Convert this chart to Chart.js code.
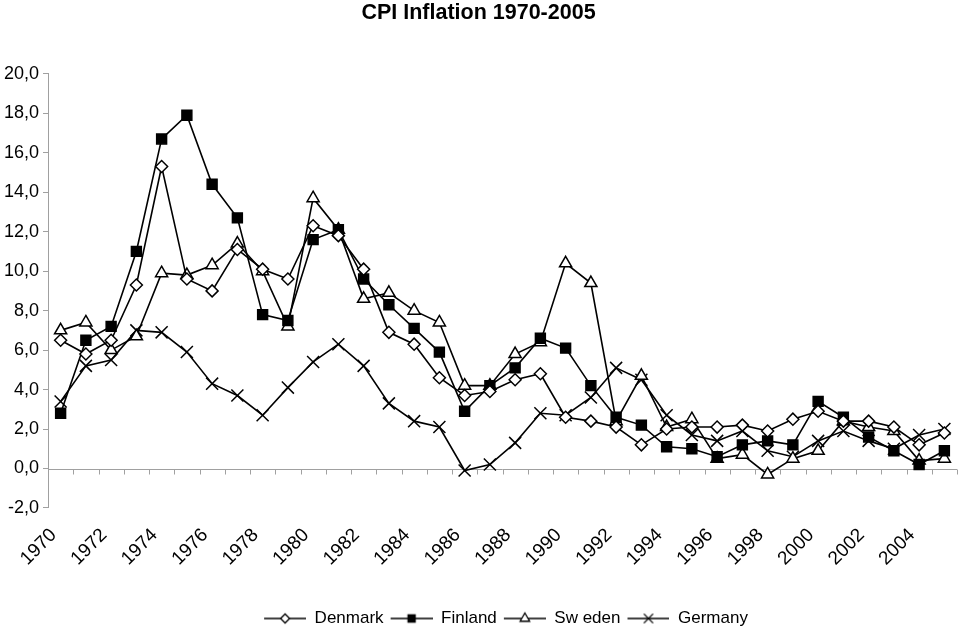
<!DOCTYPE html>
<html><head><meta charset="utf-8">
<script src="https://cdn.jsdelivr.net/npm/chart.js@4/dist/chart.umd.min.js"></script>
<style>html,body{margin:0;padding:0;background:#fff;overflow:hidden}#wrap{width:960px;height:627px;position:relative}</style>
</head><body><div id="wrap"><canvas id="c"></canvas></div>
<script>
const years = ['1970','1971','1972','1973','1974','1975','1976','1977','1978','1979',
  '1980','1981','1982','1983','1984','1985','1986','1987','1988','1989',
  '1990','1991','1992','1993','1994','1995','1996','1997','1998','1999',
  '2000','2001','2002','2003','2004','2005'];
const denmark = [6.5,5.8,6.5,9.3,15.3,9.6,9.0,11.1,10.1,9.6,
  12.3,11.8,10.1,6.9,6.3,4.6,3.7,3.9,4.5,4.8,
  2.6,2.4,2.1,1.2,2.0,2.1,2.1,2.2,1.9,2.5,
  2.9,2.4,2.4,2.1,1.2,1.8];
const finland = [2.8,6.5,7.2,11.0,16.7,17.9,14.4,12.7,7.8,7.5,
  11.6,12.1,9.6,8.3,7.1,5.9,2.9,4.2,5.1,6.6,
  6.1,4.2,2.6,2.2,1.1,1.0,0.6,1.2,1.4,1.2,
  3.4,2.6,1.6,0.9,0.2,0.9];
const sweden = [7.0,7.4,6.0,6.7,9.9,9.8,10.3,11.4,10.0,7.2,
  13.7,12.1,8.6,8.9,8.0,7.4,4.2,4.2,5.8,6.4,
  10.4,9.4,2.4,4.7,2.1,2.5,0.5,0.7,-0.3,0.5,
  0.9,2.4,2.1,1.9,0.4,0.5];
const germany = [3.4,5.2,5.5,7.0,6.9,5.9,4.3,3.7,2.7,4.1,
  5.4,6.3,5.2,3.3,2.4,2.1,-0.1,0.2,1.3,2.8,
  2.7,3.6,5.1,4.5,2.7,1.7,1.4,1.9,0.9,0.6,
  1.4,1.9,1.4,1.0,1.7,2.0];
const seriesNames = ['Denmark','Finland','Sweden','Germany'];
const legendNames = ['Denmark','Finland','Sw eden','Germany'];

const FONT = "'Liberation Sans', Arial, sans-serif";

const styles = [
  {pointStyle:'rectRot', radius:6, bg:'#ffffff', lr:4.5},
  {pointStyle:'rect', radius:7, bg:'#000000', lr:5},
  {pointStyle:'triangle', radius:7, bg:'#ffffff', lr:5.5},
  {pointStyle:'crossRot', radius:8.5, bg:'#000000', lr:6.5}
];
const values = [denmark, finland, sweden, germany];

const ICON_W = 49, ICON_GAP = 7;
function legendIcon(st) {
  const cv = document.createElement('canvas');
  cv.width = ICON_W; cv.height = 16;
  const ctx = cv.getContext('2d');
  ctx.strokeStyle = '#000'; ctx.lineWidth = 1.5;
  ctx.beginPath(); ctx.moveTo(ICON_GAP, 8); ctx.lineTo(ICON_W, 8); ctx.stroke();
  ctx.fillStyle = st.bg; ctx.strokeStyle = '#000'; ctx.lineWidth = 1.3;
  Chart.helpers.drawPoint(ctx, {pointStyle: st.pointStyle, radius: st.lr, borderWidth: 1.3, rotation: 0}, (ICON_GAP + ICON_W) / 2, 8);
  return cv;
}

const zeroAxis = {
  id: 'zeroAxis',
  beforeDatasetsDraw(chart) {
    const {ctx, chartArea} = chart;
    const xs = chart.scales.x, ys = chart.scales.y;
    const y0 = Math.round(ys.getPixelForValue(0)) + 0.5;
    ctx.save();
    ctx.strokeStyle = '#a0a0a0'; ctx.lineWidth = 1;
    ctx.beginPath();
    ctx.moveTo(chartArea.left, y0);
    ctx.lineTo(chartArea.right, y0);
    const n = years.length;
    const band = xs.width / n;
    for (let i = 0; i <= n; i++) {
      const x = Math.round(xs.left + i * band) + 0.5;
      ctx.moveTo(x, y0);
      ctx.lineTo(x, y0 + 5);
    }
    ctx.stroke();
    ctx.restore();
  }
};

const datasets = values.map((v, i) => ({
  label: seriesNames[i],
  data: v,
  borderColor: '#000',
  borderWidth: 1.6,
  backgroundColor: styles[i].bg,
  pointStyle: styles[i].pointStyle,
  pointRadius: styles[i].radius,
  pointHoverRadius: styles[i].radius,
  pointBackgroundColor: styles[i].bg,
  pointBorderColor: '#000',
  pointBorderWidth: 1.5,
  tension: 0,
  fill: false,
  clip: false
}));

new Chart(document.getElementById('c'), {
  type: 'line',
  data: { labels: years, datasets },
  plugins: [zeroAxis],
  options: {
    responsive: true,
    maintainAspectRatio: false,
    animation: false,
    layout: { autoPadding: false, padding: { left: 0, right: 3, top: 0, bottom: -10 } },
    plugins: {
      title: {
        display: true,
        text: 'CPI Inflation 1970-2005',
        color: '#000',
        font: { family: FONT, size: 21.5, weight: 'bold' },
        padding: { top: 0, bottom: 48 }
      },
      legend: {
        position: 'bottom',
        fullSize: false,
        labels: {
          color: '#000',
          font: { family: FONT, size: 17 },
          usePointStyle: true,
          pointStyleWidth: ICON_W,
          padding: 0,
          generateLabels(chart) {
            return chart.data.datasets.map((ds, i) => ({
              text: legendNames[i],
              pointStyle: legendIcon(styles[i]),
              datasetIndex: i,
              fillStyle: '#fff', strokeStyle: '#000', lineWidth: 0,
              hidden: false, fontColor: '#000'
            }));
          }
        }
      },
      tooltip: { enabled: false }
    },
    scales: {
      x: {
        type: 'category',
        offset: true,
        afterFit(scale) { scale.height += 32; scale.paddingLeft = 0; scale.paddingRight = 0; },
        grid: { display: false },
        border: { display: false },
        ticks: {
          color: '#000',
          font: { family: FONT, size: 19 },
          autoSkip: false,
          maxRotation: 45,
          minRotation: 45,
          padding: 8,
          labelOffset: -7,
          callback(val, idx) { return idx % 2 === 0 ? this.getLabelForValue(val) : ''; }
        }
      },
      y: {
        min: -2,
        max: 20,
        afterFit(scale) { scale.width = 48; },
        grid: { drawOnChartArea: false, drawTicks: true, tickLength: 5, color: '#a0a0a0' },
        border: { display: true, color: '#a0a0a0' },
        ticks: {
          stepSize: 2,
          color: '#000',
          font: { family: FONT, size: 18 },
          padding: 4,
          callback(v) { return v.toFixed(1).replace('.', ','); }
        }
      }
    }
  }
});
</script>
</body></html>
